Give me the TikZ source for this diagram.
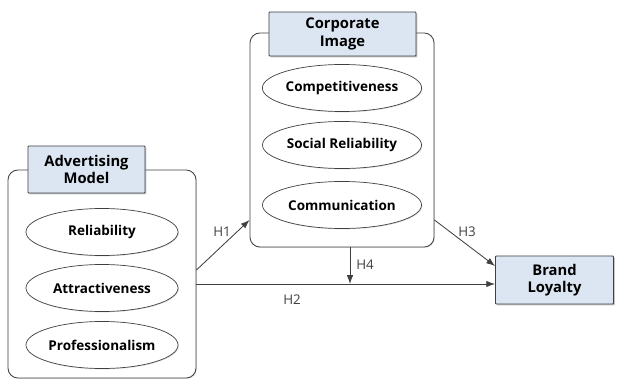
\documentclass[tikz,border=0pt]{standalone}
\usepackage{fontspec}
\setmainfont{Open Sans}
\usepackage{tikz}
\usetikzlibrary{arrows.meta}
\usetikzlibrary{positioning,shapes,shadows}
\definecolor{headblue}{HTML}{DCE6F2}
\definecolor{linegray}{HTML}{404040}
\tikzset{
    group/.style={
        draw=linegray,
        rounded corners=0.25cm,
        fill=white,
        line width=0.6pt,
        drop shadow={opacity=0.25, shadow xshift=0.6pt, shadow yshift=-0.6pt}
    },
    header/.style={
        draw=linegray,
        rounded corners=0.5pt,
        fill=headblue,
        line width=0.6pt,
        align=center,
        font=\fontsize{10.5}{12.5}\selectfont\bfseries,
        inner sep=1pt,
        drop shadow={opacity=0.45, shadow xshift=1pt, shadow yshift=-1pt}
    },
    factor/.style={
        draw=linegray,
        ellipse,
        fill=white,
        line width=0.5pt,
        minimum height=1.175cm,
        inner sep=0pt,
        font=\fontsize{9.6}{11}\selectfont\bfseries,
        drop shadow={opacity=0.25, shadow xshift=0.6pt, shadow yshift=-0.6pt}
    },
    path/.style={
        draw=linegray,
        line width=0.6pt,
        -{Latex[length=2.2mm, width=1.6mm]}
    },
    hlabel/.style={font=\fontsize{9.5}{11}\selectfont, text=linegray}
}

\begin{document}
\begin{tikzpicture}[x=0.025cm, y=-0.025cm]
    \useasboundingbox (0,0) rectangle (617,380);

    % containers
    \node[group, minimum width=4.7cm, minimum height=5.2cm] (adv) at (102,274) {};
    \node[group, minimum width=4.6cm, minimum height=5.35cm] (ci) at (342,140) {};

    % headers
    \node[header, minimum width=2.925cm, minimum height=1.175cm] (advhead) at (86.5,169.5) {Advertising\\Model};
    \node[header, minimum width=3.675cm, minimum height=1.1cm] (cihead) at (342.5,34) {Corporate\\Image};
    \node[header, minimum width=2.95cm, minimum height=1.2cm] (bl) at (554.5,280) {Brand\\Loyalty};

    % factors
    \node[factor, minimum width=3.8cm] (rel) at (102,232) {Reliability};
    \node[factor, minimum width=3.8cm] (att) at (102,288) {Attractiveness};
    \node[factor, minimum width=3.8cm] (pro) at (102,345) {Professionalism};
    \node[factor, minimum width=3.975cm] (comp) at (342,88) {Competitiveness};
    \node[factor, minimum width=3.975cm] (soc) at (342,145) {Social Reliability};
    \node[factor, minimum width=3.975cm] (comm) at (342,205) {Communication};

    % connector end points
    \coordinate (h1s) at (adv.east |- 0,270);
    \coordinate (h1e) at (ci.west |- 0,220);
    \coordinate (h2s) at (adv.east |- 0,284);
    \coordinate (h2e) at (bl.west |- 0,284);
    \coordinate (h3s) at (ci.east |- 0,220);
    \coordinate (h3e) at (bl.west |- 0,266);
    \coordinate (h4s) at (ci.south -| 350,0);
    \coordinate (h4e) at (350,284);

    \draw[path] (h1s) -- (h1e);
    \draw[path] (h2s) -- (h2e);
    \draw[path] (h3s) -- (h3e);
    \draw[path] (h4s) -- (h4e);

    \node[hlabel] (h1) at (222,232) {H1};
    \node[hlabel] (h2) at (292,300) {H2};
    \node[hlabel] (h3) at (467,232) {H3};
    \node[hlabel] (h4) at (365,265) {H4};
\end{tikzpicture}
\end{document}
